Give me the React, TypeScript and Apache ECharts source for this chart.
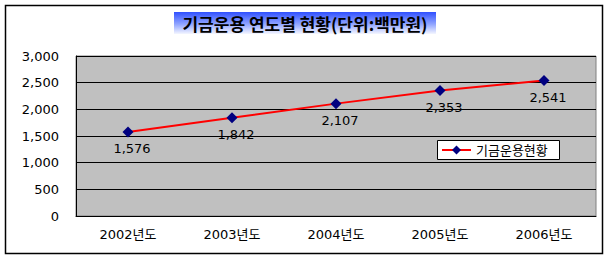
import React, { useEffect, useRef } from "react";
import * as echarts from "echarts";

const categories = ["2002년도", "2003년도", "2004년도", "2005년도", "2006년도"];
const values = [1576, 1842, 2107, 2353, 2541];
const seriesName = "기금운용현황";
const titleText = "기금운용 연도별 현황(단위:백만원)";

const FONT = "'DejaVu Sans', 'Noto Sans CJK KR', sans-serif";
const TFONT = "'Noto Sans CJK KR', 'DejaVu Sans', sans-serif";

export default function App() {
  const ref = useRef<HTMLDivElement>(null);
  useEffect(() => {
    if (!ref.current) return;
    const chart = echarts.init(ref.current, undefined, { renderer: "svg" });
    chart.setOption({
      animation: false,
      backgroundColor: "#ffffff",
      textStyle: { fontFamily: FONT },
      grid: { left: 76, top: 56, width: 520, height: 160, containLabel: false, show: true, backgroundColor: "#c0c0c0", borderColor: "#808080", borderWidth: 1 },
      xAxis: {
        type: "category",
        data: categories,
        boundaryGap: true,
        axisLine: { lineStyle: { color: "#000", width: 1 } },
        axisTick: { inside: true, length: 3, lineStyle: { color: "#000" } },
        axisLabel: { color: "#000", fontSize: 13, fontFamily: FONT, margin: 12 },
      },
      yAxis: {
        type: "value",
        min: 0,
        max: 3000,
        interval: 500,
        axisLine: { show: true, lineStyle: { color: "#000", width: 1 } },
        axisTick: { show: false },
        splitLine: { lineStyle: { color: "#000", width: 1 } },
        axisLabel: {
          color: "#000",
          fontSize: 13,
          fontFamily: FONT,
          margin: 17,
          formatter: (v: number) => v.toLocaleString("en-US"),
        },
      },
      graphic: [
        {
          type: "rect",
          shape: { x: 5.5, y: 5.5, width: 597, height: 248 },
          style: { fill: "none", stroke: "#000", lineWidth: 1.5 },
          silent: true,
        },
        {
          type: "rect",
          shape: { x: 174, y: 12, width: 262, height: 22 },
          style: {
            fill: new echarts.graphic.LinearGradient(0, 0, 0, 1, [
              { offset: 0, color: "#3050ff" },
              { offset: 0.55, color: "#90a4ff" },
              { offset: 1, color: "#f4f6ff" },
            ]),
          },
          silent: true,
        },
        {
          type: "text",
          x: 305,
          y: 23,
          style: {
            text: titleText,
            fill: "#000",
            font: "bold 17px " + TFONT,
            align: "center",
            verticalAlign: "middle",
          },
          silent: true,
        },
        {
          type: "rect",
          shape: { x: 437.5, y: 140.5, width: 122, height: 19 },
          style: { fill: "#ffffff", stroke: "#000", lineWidth: 1 },
          silent: true,
        },
        {
          type: "line",
          shape: { x1: 442, y1: 150, x2: 471, y2: 150 },
          style: { stroke: "#ff0000", lineWidth: 2 },
          silent: true,
        },
        {
          type: "polygon",
          shape: { points: [[456.5, 145.5], [461, 150], [456.5, 154.5], [452, 150]] },
          style: { fill: "#000080" },
          silent: true,
        },
        {
          type: "text",
          x: 476,
          y: 150,
          style: {
            text: seriesName,
            fill: "#000",
            font: "13px " + FONT,
            align: "left",
            verticalAlign: "middle",
          },
          silent: true,
        },
      ],
      series: [
        {
          name: seriesName,
          type: "line",
          data: values,
          symbol: "diamond",
          symbolSize: 11,
          lineStyle: { color: "#ff0000", width: 2 },
          itemStyle: { color: "#000080" },
          label: {
            show: true,
            position: "bottom",
            distance: 5,
            offset: [4, 0],
            color: "#000",
            fontSize: 13,
            fontFamily: FONT,
            formatter: (p: any) => Number(p.value).toLocaleString("en-US"),
          },
        },
      ],
    });
    return () => chart.dispose();
  }, []);
  return (
    <div
      ref={ref}
      style={{ position: "fixed", left: 0, top: 0, width: 609, height: 263 }}
    />
  );
}
